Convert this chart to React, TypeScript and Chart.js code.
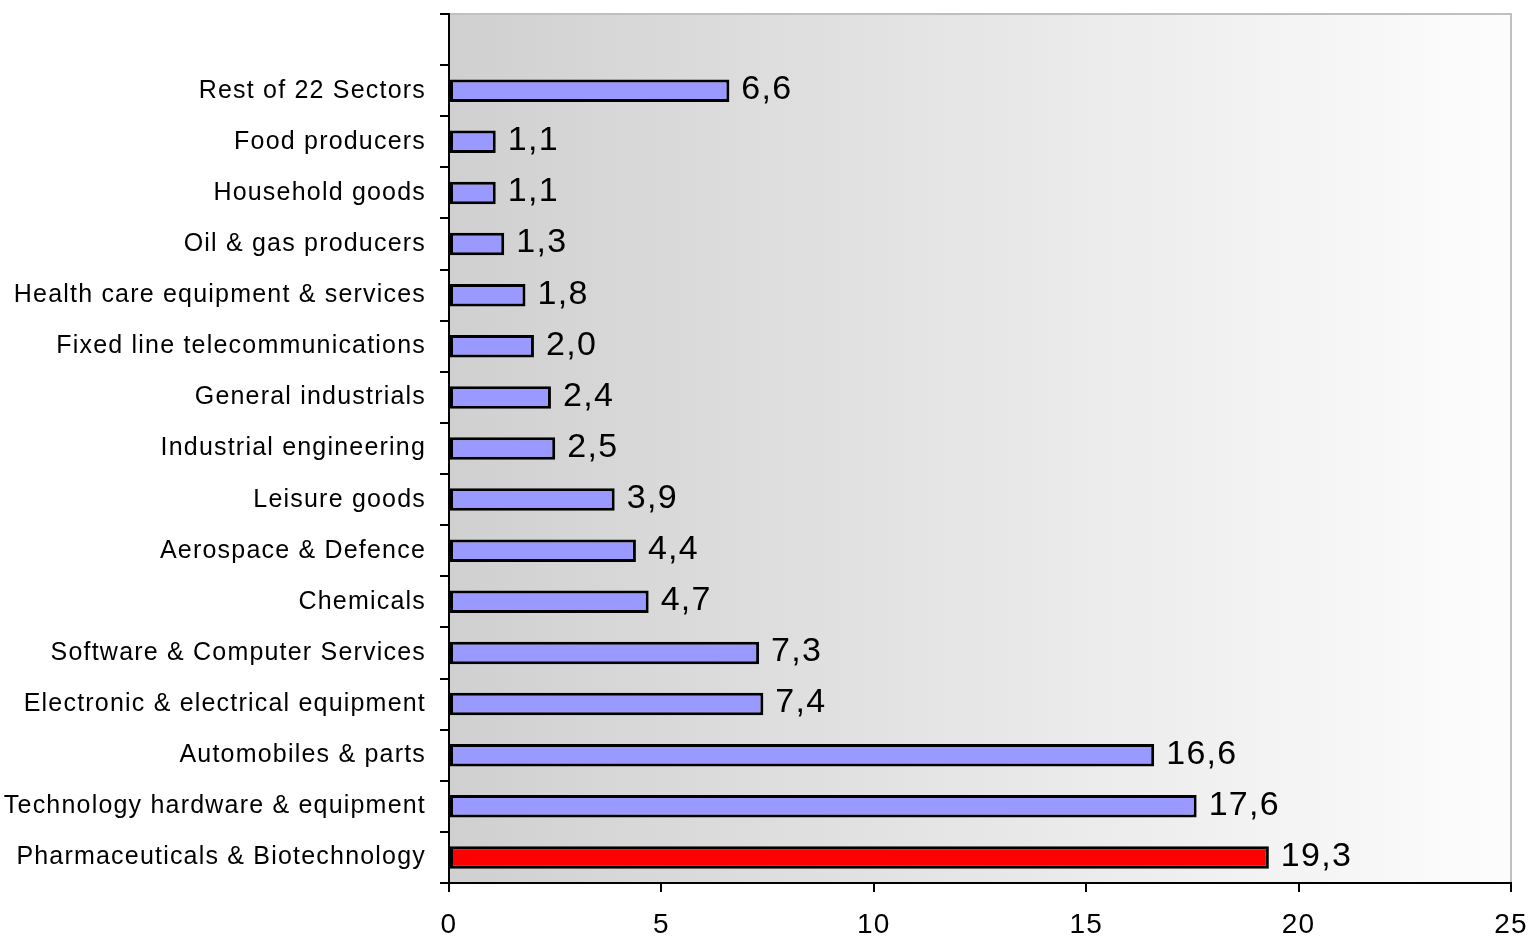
import React, { useEffect, useRef } from "react";
import { Chart, registerables } from "chart.js";

Chart.register(...registerables);

const categories: string[] = [
  "",
  "Rest of 22 Sectors",
  "Food producers",
  "Household goods",
  "Oil & gas producers",
  "Health care equipment & services",
  "Fixed line telecommunications",
  "General industrials",
  "Industrial engineering",
  "Leisure goods",
  "Aerospace & Defence",
  "Chemicals",
  "Software & Computer Services",
  "Electronic & electrical equipment",
  "Automobiles & parts",
  "Technology hardware & equipment",
  "Pharmaceuticals & Biotechnology",
];

const values: (number | null)[] = [
  null, 6.6, 1.1, 1.1, 1.3, 1.8, 2.0, 2.4, 2.5, 3.9, 4.4, 4.7, 7.3, 7.4, 16.6, 17.6, 19.3,
];

const highlighted = "Pharmaceuticals & Biotechnology";
const xMin = 0;
const xMax = 25;
const xStep = 5;

const FONT = "'Liberation Sans', Arial, sans-serif";

export default function App() {
  const ref = useRef<HTMLCanvasElement | null>(null);

  useEffect(() => {
    document.body.style.margin = "0";
    const canvas = ref.current;
    if (!canvas) return;

    const bgPlugin = {
      id: "bgPlugin",
      beforeDraw(chart: any) {
        const { ctx, chartArea } = chart;
        const { left, right, top, bottom } = chartArea;
        ctx.save();
        const g = ctx.createLinearGradient(left, 0, right, 0);
        g.addColorStop(0, "#d0d0d0");
        g.addColorStop(1, "#fdfdfd");
        ctx.fillStyle = g;
        ctx.fillRect(left, top, right - left, bottom - top);
        ctx.strokeStyle = "#c0c0c0";
        ctx.lineWidth = 2;
        ctx.beginPath();
        ctx.moveTo(left, top);
        ctx.lineTo(right, top);
        ctx.lineTo(right, bottom);
        ctx.stroke();
        ctx.restore();
        (ctx as any).letterSpacing = "1.2px";
      },
      afterDraw(chart: any) {
        (chart.ctx as any).letterSpacing = "0px";
      },
    };

    const labelPlugin = {
      id: "labelPlugin",
      afterDatasetsDraw(chart: any) {
        const { ctx } = chart;
        const meta = chart.getDatasetMeta(0);
        ctx.save();
        (ctx as any).letterSpacing = "1.3px";
        ctx.font = `34px ${FONT}`;
        ctx.fillStyle = "#000";
        ctx.textAlign = "left";
        ctx.textBaseline = "middle";
        meta.data.forEach((el: any, i: number) => {
          const v = values[i];
          if (v === null || v === undefined) return;
          ctx.fillText(v.toFixed(1).replace(".", ","), el.x + 12, el.y - 1);
        });
        ctx.restore();
      },
    };

    const chart = new Chart(canvas, {
      type: "bar",
      data: {
        labels: categories,
        datasets: [
          {
            data: values as any,
            backgroundColor: categories.map((c) => (c === highlighted ? "#ff0000" : "#9999ff")),
            borderColor: "#000000",
            borderWidth: 3,
            borderSkipped: false,
            barPercentage: 0.44,
            categoryPercentage: 1,
          },
        ],
      },
      options: {
        indexAxis: "y",
        responsive: false,
        animation: false,
        layout: { padding: { top: 14, right: 22, left: 0, bottom: 0 } },
        plugins: {
          legend: { display: false },
          tooltip: { enabled: false },
          title: { display: false },
        },
        scales: {
          x: {
            type: "linear",
            min: xMin,
            max: xMax,
            ticks: {
              stepSize: xStep,
              color: "#000",
              font: { family: FONT, size: 28 },
              padding: 16,
            },
            grid: {
              drawOnChartArea: false,
              drawTicks: true,
              tickLength: 9,
              color: "#000",
              lineWidth: 2,
            },
            border: { color: "#000", width: 2 },
            afterFit(scale: any) {
              scale.height = 53;
              scale.paddingLeft = 0;
              scale.paddingRight = 0;
              scale.paddingTop = 0;
              scale.paddingBottom = 0;
            },
          },
          y: {
            type: "category",
            ticks: {
              color: "#000",
              font: { family: FONT, size: 25 },
              padding: 14,
              autoSkip: false,
            },
            grid: {
              offset: true,
              drawOnChartArea: false,
              drawTicks: true,
              tickLength: 9,
              color: "#000",
              lineWidth: 2,
            },
            border: { color: "#000", width: 2 },
            afterFit(scale: any) {
              scale.width = 449;
              scale.paddingLeft = 0;
              scale.paddingRight = 0;
              scale.paddingTop = 0;
              scale.paddingBottom = 0;
            },
          },
        },
      },
      plugins: [bgPlugin, labelPlugin],
    } as any);

    return () => chart.destroy();
  }, []);

  return <canvas ref={ref} width={1533} height={936} style={{ display: "block" }} />;
}
